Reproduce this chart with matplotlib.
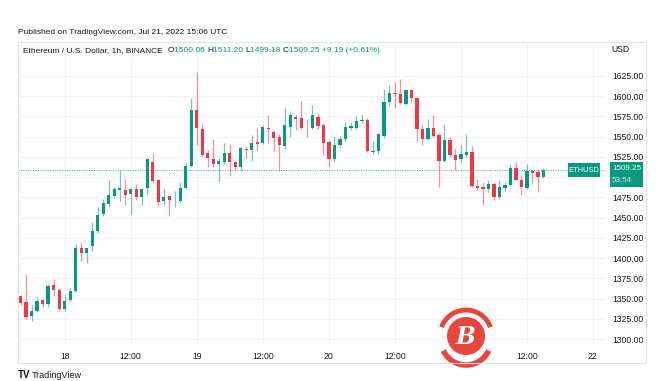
import matplotlib
matplotlib.use('Agg')
import matplotlib.pyplot as plt
from matplotlib.patches import Rectangle, Circle, Arc

plt.rcParams['font.family'] = ['Liberation Sans', 'DejaVu Sans']

# ETH/USD 1h candles, Jul 17 16:00 -> Jul 21 15:00
opens = [1353, 1346, 1329, 1335, 1348, 1344, 1367, 1361, 1337, 1348, 1359, 1412,
         1406, 1415, 1433, 1454, 1467, 1477, 1484, 1484, 1479, 1485, 1475, 1486,
         1519, 1497, 1470, 1477, 1470, 1471, 1486, 1514, 1583, 1559, 1530, 1522,
         1516, 1519, 1530, 1518, 1513, 1535, 1533, 1543, 1542, 1561, 1556, 1549,
         1538, 1562, 1574, 1573, 1561, 1560, 1574, 1564, 1543, 1522, 1539, 1547,
         1561, 1561, 1569, 1570, 1530.5, 1532, 1551, 1592, 1604, 1602, 1590, 1607,
         1598, 1559, 1547, 1560, 1552, 1520, 1546, 1527, 1522, 1527, 1531, 1489,
         1488, 1485, 1492, 1475, 1487, 1490, 1511, 1497, 1487, 1507, 1506, 1500.06]
highs = [1355, 1381, 1342, 1352, 1350, 1368, 1374, 1362, 1356, 1363, 1417, 1420,
         1413, 1444, 1463, 1473, 1497, 1488, 1509, 1496, 1486, 1492, 1486, 1523,
         1530, 1498, 1485, 1477, 1483, 1494, 1519, 1597, 1630, 1566, 1533, 1547,
         1523, 1542, 1541, 1520, 1538, 1538, 1552, 1561, 1564, 1576, 1558, 1553,
         1585, 1581, 1576, 1594, 1572, 1589, 1579, 1565, 1546, 1551, 1551, 1568,
         1568, 1575, 1576, 1573, 1545, 1554, 1609, 1614, 1617, 1621, 1609, 1608,
         1599, 1565, 1572, 1577, 1554, 1566, 1550, 1536, 1540, 1553, 1538, 1498,
         1494, 1496, 1494, 1497, 1494, 1516, 1518, 1503, 1516, 1510, 1510, 1511.20]
lows = [1342, 1325, 1323, 1333, 1340, 1340, 1353, 1335, 1335, 1347, 1358, 1396,
        1394, 1409, 1431, 1452, 1463, 1474, 1471, 1466, 1455, 1472, 1466, 1478,
        1493, 1466, 1466, 1452, 1463, 1469, 1485, 1513, 1539, 1526, 1513, 1513,
        1494, 1516, 1503, 1510, 1507, 1524, 1520, 1532, 1541, 1542, 1532, 1507,
        1535, 1550, 1558, 1559, 1550, 1559, 1559, 1527, 1513, 1519, 1537, 1544,
        1558, 1559, 1567, 1531, 1529, 1529, 1548, 1588, 1585, 1590, 1589, 1592,
        1545, 1540, 1546, 1549, 1488, 1518, 1525, 1509, 1519, 1525, 1488, 1484,
        1466, 1482, 1472, 1473, 1483, 1489, 1496, 1478, 1485, 1491, 1482, 1499.18]
closes = [1345, 1328, 1335, 1347, 1343, 1366, 1361, 1337, 1347, 1359, 1412, 1406,
          1412, 1433, 1453, 1468, 1478, 1485, 1486, 1478, 1485, 1476, 1485, 1522,
          1495, 1469, 1475, 1472, 1471, 1487, 1514, 1583, 1561, 1527, 1524, 1516,
          1520, 1530, 1518, 1512, 1536, 1534, 1542, 1541, 1562, 1559, 1548, 1540,
          1564, 1576, 1572, 1561, 1560, 1576, 1563, 1542, 1522, 1539, 1547, 1562,
          1563, 1569, 1571, 1532, 1532, 1553, 1593, 1604, 1602, 1591, 1607, 1597,
          1559, 1547, 1561, 1551, 1520, 1546, 1527, 1521, 1528, 1531, 1489, 1487,
          1485, 1492, 1475, 1488, 1490, 1511, 1497, 1488, 1507, 1505, 1500, 1509.25]

# time axis: hours since Jul 17 16:00
tick_hours = [8, 20, 32, 44, 56, 68, 80, 92, 104]
tick_labels = ['18', '12:00', '19', '12:00', '20', '12:00', '21', '12:00', '22']
price_ticks = [1300, 1325, 1350, 1375, 1400, 1425, 1450, 1475, 1500, 1525,
               1550, 1575, 1600, 1625]
last_price = 1509.25

UP = '#089981'
DOWN = '#f23645'
TXT = '#131722'
GRID = '#f0f3fa'

W, H = 659, 381
fig = plt.figure(figsize=(W / 100, H / 100), dpi=100)
fig.patch.set_facecolor('white')

def px(x, y):
    return x / W, 1 - y / H

# plot pane in pixels: x 18..605, y 42..345
ax = fig.add_axes([18 / W, 1 - 345 / H, (605 - 18) / W, (345 - 42) / H])
ax.set_xlim(-0.49, 106.2)
ax.set_ylim(1292.9, 1666.6)

for s in ax.spines.values():
    s.set_visible(False)

for p in price_ticks:
    ax.axhline(p, color=GRID, lw=0.8, zorder=0)
for h in tick_hours:
    ax.axvline(h, color=GRID, lw=0.8, zorder=0)

for i in range(len(opens)):
    o, hi, lo, c = opens[i], highs[i], lows[i], closes[i]
    col = UP if c >= o else DOWN
    ax.vlines(i, lo, hi, color=col, lw=0.9, alpha=0.55, zorder=2)
    ax.bar(i, max(abs(c - o), 0.9), bottom=min(o, c), width=0.62,
           color=col, zorder=3, linewidth=0)

ax.axhline(last_price, color=UP, lw=0.7, ls=(0, (1, 1.5)), alpha=0.8, zorder=1)

ax.yaxis.tick_right()
ax.set_yticks(price_ticks)
# 1500.00 sits under the last-price box, so it is not shown
ax.set_yticklabels(['' if p == 1500 else f'{p:.2f}' for p in price_ticks])
ax.set_xticks(tick_hours)
ax.set_xticklabels(tick_labels)
ax.tick_params(axis='both', length=0, labelsize=6.2, colors=TXT)
ax.tick_params(axis='y', pad=5)
ax.tick_params(axis='x', pad=5)
for lbl in ax.get_yticklabels():
    lbl.set_horizontalalignment('left')

# outer frame
fig.patches.append(Rectangle(px(18, 363), (646 - 18) / W, (363 - 42) / H,
                             transform=fig.transFigure, fill=False,
                             edgecolor='#e0e3eb', lw=0.8))

fig.text(*px(18, 33), 'Published on TradingView.com, Jul 21, 2022 15:06 UTC',
         fontsize=6, color=TXT, va='center')
fig.text(*px(611, 50), 'USD', fontsize=6.2, color=TXT, va='center')

# legend line built from pieces
parts = [('Ethereum / U.S. Dollar, 1h, BINANCE  ', TXT), ('O', TXT), ('1500.06 ', UP),
         ('H', TXT), ('1511.20 ', UP), ('L', TXT), ('1499.18 ', UP), ('C', TXT),
         ('1509.25 ', UP), ('+9.19 (+0.61%)', UP)]
renderer = fig.canvas.get_renderer()
x0 = 23
for s, col in parts:
    t = fig.text(*px(x0, 51), s, fontsize=6, color=col, va='center')
    x0 += t.get_window_extent(renderer).width

# last price labels
fig.patches.append(Rectangle(px(568, 177), 32 / W, 14 / H, transform=fig.transFigure,
                             facecolor=UP, edgecolor='none'))
fig.text(*px(584, 170), 'ETHUSD', fontsize=5.4, color='white', ha='center', va='center')
fig.patches.append(Rectangle(px(610, 187), 33 / W, 25 / H, transform=fig.transFigure,
                             facecolor=UP, edgecolor='none'))
fig.text(*px(626.5, 168.5), '1509.25', fontsize=5.8, color='white', ha='center', va='center')
fig.text(*px(612, 181), '53:54', fontsize=5.8, color='#cfeee9', va='center')

# watermark logo
logo_ax = fig.add_axes([0, 0, 1, 1], facecolor='none')
logo_ax.set_xlim(0, W)
logo_ax.set_ylim(H, 0)
logo_ax.axis('off')
logo_ax.add_patch(Rectangle((440, 346), 52, 14, facecolor='white', edgecolor='none'))
logo_ax.add_patch(Circle((466, 336), 19, facecolor='#e8453c', edgecolor='none'))
logo_ax.add_patch(Arc((466, 336), 52, 52, theta1=200, theta2=340, color='#e8453c', lw=3.5))
logo_ax.add_patch(Arc((466, 340), 50, 50, theta1=25, theta2=155, color='#e8453c', lw=4))
logo_ax.text(466, 337, 'B', fontsize=17, fontweight='bold', color='white',
             ha='center', va='center', fontstyle='italic', family='DejaVu Serif')

fig.text(*px(18, 375), 'TV', fontsize=7, fontweight='bold', color=TXT, va='center')
fig.text(*px(32, 375), 'TradingView', fontsize=6.5, color=TXT, va='center')

fig.savefig('out.png', dpi=100)
